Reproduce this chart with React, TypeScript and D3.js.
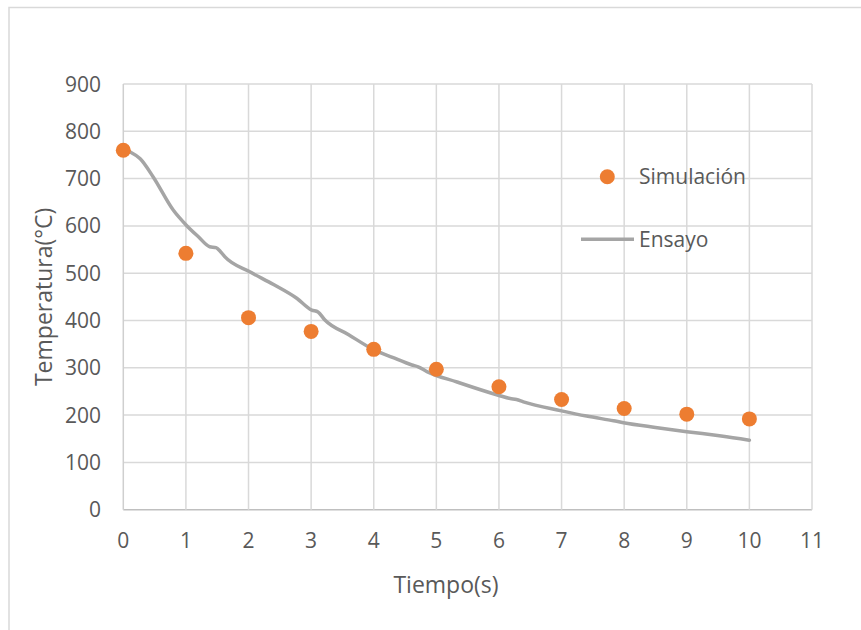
import * as d3 from "d3";

// Simulación (puntos)
const simTime = [0, 1, 2, 3, 4, 5, 6, 7, 8, 9, 10];
const simTemp = [760, 542, 406, 377, 339, 297, 260, 233, 214, 202, 192];

// Ensayo (curva medida)
const testTime = [
  0, 0.1, 0.27, 0.48, 0.8, 1.01, 1.2, 1.38, 1.48, 1.55, 1.62, 2.02, 2.4, 2.77,
  3.01, 3.11, 3.22, 3.6, 3.99, 4.3, 4.61, 4.71, 4.85, 5.33, 5.99, 6.18, 6.28,
  6.39, 7.0, 7.4, 7.83, 7.99, 8.5, 9.0, 9.43, 9.55, 10.0,
];
const testTemp = [
  763, 757, 742, 703, 633, 601, 577, 556, 554, 546, 535, 503, 476, 447, 422,
  418, 401, 370, 339, 322, 306, 302, 292, 270, 242, 235, 233, 228, 209, 198,
  188, 184, 174, 165, 158, 156, 147,
];

const xTicks = d3.range(0, 12);
const yTicks = d3.range(0, 1000, 100);

const W = 861;
const H = 630;
const plot = { left: 123.3, right: 812, top: 84, bottom: 509.7 };
const font = "'Open Sans', sans-serif";
const textColor = "#595959";

export default function App() {
  const x = d3.scaleLinear().domain([0, 11]).range([plot.left, plot.right]);
  const y = d3.scaleLinear().domain([0, 900]).range([plot.bottom, plot.top]);

  const line = d3
    .line<number>()
    .x((_, i) => x(testTime[i]))
    .y((d) => y(d))
    .curve(d3.curveMonotoneX);

  return (
    <svg
      width={W}
      height={H}
      style={{ position: "absolute", left: 0, top: 0, background: "#fff" }}
      fontFamily={font}
    >
      <rect x={9} y={7.5} width={900} height={700} fill="#fff" stroke="#d9d9d9" strokeWidth={1.5} />

      {/* grid */}
      {yTicks.map((t) => (
        <line key={"h" + t} x1={plot.left} x2={plot.right} y1={y(t)} y2={y(t)}
          stroke={t === 0 ? "#bfbfbf" : "#d9d9d9"} strokeWidth={1.5} />
      ))}
      {xTicks.map((t) => (
        <line key={"v" + t} x1={x(t)} x2={x(t)} y1={plot.top} y2={plot.bottom}
          stroke={t === 0 ? "#cfcfcf" : "#d9d9d9"} strokeWidth={1.5} />
      ))}

      {/* tick labels */}
      {yTicks.map((t) => (
        <text key={"yl" + t} x={101} y={y(t)} dy="0.36em" textAnchor="end"
          fontSize={21} fill={textColor}>{t}</text>
      ))}
      {xTicks.map((t) => (
        <text key={"xl" + t} x={x(t)} y={548} textAnchor="middle"
          fontSize={21} fill={textColor}>{t}</text>
      ))}

      {/* axis titles */}
      <text x={446} y={593} textAnchor="middle" fontSize={23} fill={textColor}>Tiempo(s)</text>
      <text transform={`translate(52,${(plot.top + plot.bottom) / 2}) rotate(-90)`}
        textAnchor="middle" fontSize={23} fill={textColor}>Temperatura(°C)</text>

      {/* series */}
      <path d={line(testTemp) ?? ""} fill="none" stroke="#a5a5a5" strokeWidth={3.5}
        strokeLinejoin="round" strokeLinecap="round" />
      {simTemp.map((v, i) => (
        <circle key={"p" + i} cx={x(simTime[i])} cy={y(v)} r={7.5} fill="#ed7d31" />
      ))}

      {/* legend */}
      <circle cx={607.3} cy={176.7} r={7.5} fill="#ed7d31" />
      <text x={639} y={184} fontSize={21} fill={textColor}>Simulación</text>
      <line x1={581} x2={634} y1={239.3} y2={239.3} stroke="#a5a5a5" strokeWidth={3.5} />
      <text x={639} y={247.3} fontSize={21} fill={textColor}>Ensayo</text>
    </svg>
  );
}
